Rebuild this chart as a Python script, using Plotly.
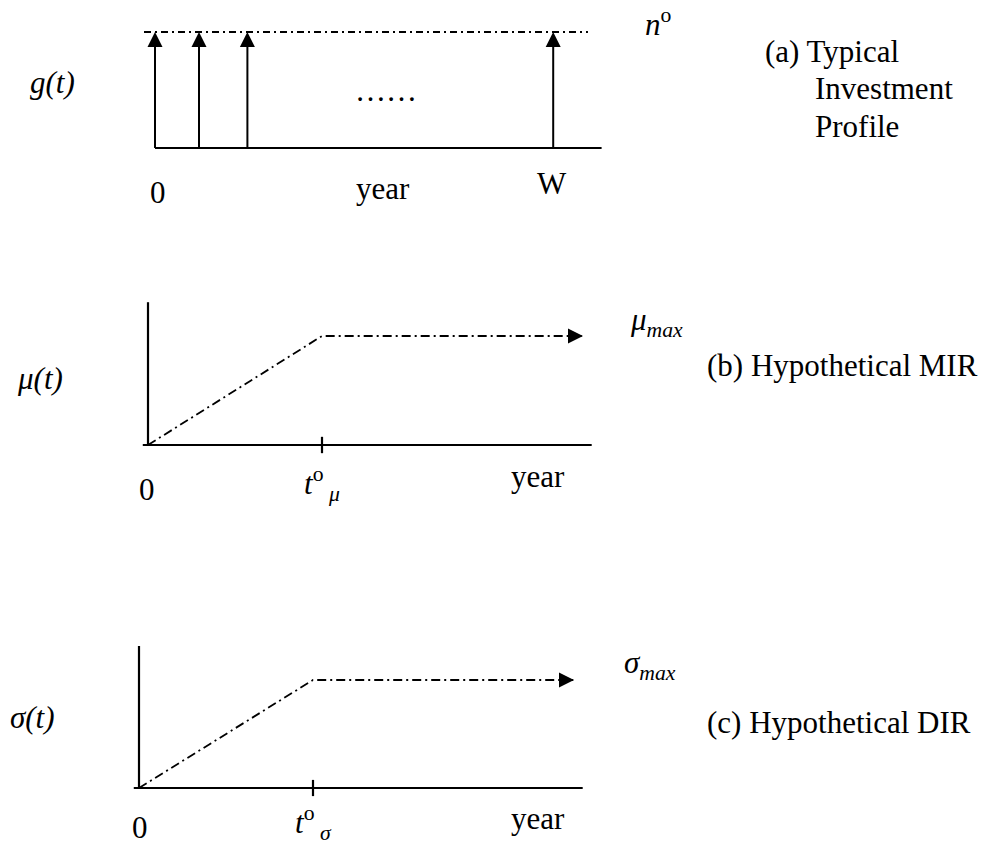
import plotly.graph_objects as go

W_PX, H_PX = 988, 846
FONT = "Liberation Serif, Times New Roman, serif"
FS = 31

# ---------------- data (schematic units) ----------------
# (a) Typical investment profile: equal investments n^o arriving at these times
invest_times = [0.0, 1.0, 2.1, 9.05]
n_o = 1.0
a_axis_end = 10.15
a_level_span = [-0.25, 9.84]

# (b) Hypothetical MIR
t_mu = 1.0
mu_max = 1.0
mir_t = [0.0, t_mu, 2.5]
mir_v = [0.0, mu_max, mu_max]
b_axis_x = [-0.03, 2.55]
b_axis_y_top = 1.31

# (c) Hypothetical DIR
t_sigma = 1.0
sigma_max = 1.0
dir_t = [0.0, t_sigma, 2.5]
dir_v = [0.0, sigma_max, sigma_max]
c_axis_x = [-0.03, 2.55]
c_axis_y_top = 1.315

tick_half = 0.075

# ---------------- helpers ----------------
def panel_layout(x0_px, xu, y0_px, yu, top_px, bottom_px):
    xr = [(0 - x0_px) / xu, (W_PX - x0_px) / xu]
    yr = [(y0_px - bottom_px) / yu, (y0_px - top_px) / yu]
    dom = [1 - bottom_px / H_PX, 1 - top_px / H_PX]
    return xr, yr, dom

def P(px, py):
    return px / W_PX, 1 - py / H_PX

fig = go.Figure()
BLACK = "black"
DASH_A = "7px,4px,2px,4px"
DASH_B = "9px,4px,2px,4px"

def line(x, y, ax, width=2, dash="solid"):
    fig.add_trace(go.Scatter(x=x, y=y, mode="lines", xaxis="x" + ax, yaxis="y" + ax,
                             line=dict(color=BLACK, width=width, dash=dash),
                             hoverinfo="skip", showlegend=False, cliponaxis=False))

def head(x, y, ax, symbol, size=15):
    fig.add_trace(go.Scatter(x=x, y=y, mode="markers", xaxis="x" + ax, yaxis="y" + ax,
                             marker=dict(symbol=symbol, size=size, color=BLACK,
                                         line=dict(width=0)),
                             hoverinfo="skip", showlegend=False, cliponaxis=False))

# ---- panel (a)
line([0, a_axis_end], [0, 0], "", 2.2)
line(a_level_span, [n_o, n_o], "", 1.8, DASH_A)
sx, sy = [], []
for t in invest_times:
    sx += [t, t, None]
    sy += [0, n_o * 0.93, None]
line(sx, sy, "", 2)
head(invest_times, [n_o] * len(invest_times), "", "arrow-up", 15)

# ---- panel (b)
line(b_axis_x, [0, 0], "2", 2.2)
line([0, 0], [0, b_axis_y_top], "2", 2.2)
line([t_mu, t_mu], [-tick_half, tick_half], "2", 2.2)
line(mir_t, mir_v, "2", 1.8, DASH_B)
head([mir_t[-1]], [mir_v[-1]], "2", "arrow-right", 15)

# ---- panel (c)
line(c_axis_x, [0, 0], "3", 2.2)
line([0, 0], [0, c_axis_y_top], "3", 2.2)
line([t_sigma, t_sigma], [-tick_half, tick_half], "3", 2.2)
line(dir_t, dir_v, "3", 1.8, DASH_B)
head([dir_t[-1]], [dir_v[-1]], "3", "arrow-right", 15)

# ---------------- layout ----------------
xa, ya, da = panel_layout(155, 44, 148, 116, 0, 230)
xb, yb, db = panel_layout(148, 174, 445, 109, 230, 560)
xc, yc, dc = panel_layout(139, 174, 788, 108, 560, 846)

ax_common = dict(visible=False, fixedrange=True, showgrid=False, zeroline=False)
fig.update_layout(
    width=W_PX, height=H_PX, margin=dict(l=0, r=0, t=0, b=0),
    paper_bgcolor="white", plot_bgcolor="rgba(0,0,0,0)", showlegend=False,
    font=dict(family=FONT, size=FS, color=BLACK),
    xaxis=dict(range=xa, domain=[0, 1], anchor="y", **ax_common),
    yaxis=dict(range=ya, domain=da, anchor="x", **ax_common),
    xaxis2=dict(range=xb, domain=[0, 1], anchor="y2", **ax_common),
    yaxis2=dict(range=yb, domain=db, anchor="x2", **ax_common),
    xaxis3=dict(range=xc, domain=[0, 1], anchor="y3", **ax_common),
    yaxis3=dict(range=yc, domain=dc, anchor="x3", **ax_common),
)

# text labels: (text, px, py, xanchor)
labels = [
    ("<i>g(t)</i>", 52, 83, "center"),
    ("……", 386, 91, "center"),
    ("0", 158, 193, "center"),
    ("year", 383, 189, "center"),
    ("W", 552, 183, "center"),
    ("<i>n</i><sup>o</sup>", 643, 22, "left"),
    ("(a) Typical", 763, 51, "left"),
    ("Investment", 813, 89, "left"),
    ("Profile", 813, 127, "left"),
    ("<i>μ(t)</i>", 40, 378, "center"),
    ("0", 147, 490, "center"),
    ("<i>t</i><sup>o</sup><sub> <i>μ</i></sub>", 322, 484, "center"),
    ("year", 538, 476, "center"),
    ("<i>μ</i><sub><i>max</i></sub>", 628, 322, "left"),
    ("(b) Hypothetical MIR", 705, 365, "left"),
    ("<i>σ(t)</i>", 32, 717, "center"),
    ("0", 140, 827, "center"),
    ("<i>t</i><sup>o</sup><sub> <i>σ</i></sub>", 313, 823, "center"),
    ("year", 538, 818, "center"),
    ("<i>σ</i><sub><i>max</i></sub>", 622, 665, "left"),
    ("(c) Hypothetical DIR", 705, 722, "left"),
]
for text, px, py, xanc in labels:
    x, y = P(px, py)
    fig.add_annotation(text=text, x=x, y=y, xref="paper", yref="paper",
                       xanchor=xanc, yanchor="middle", showarrow=False,
                       font=dict(family=FONT, size=FS, color=BLACK))

fig.write_html("out.html", config={"displayModeBar": False})
